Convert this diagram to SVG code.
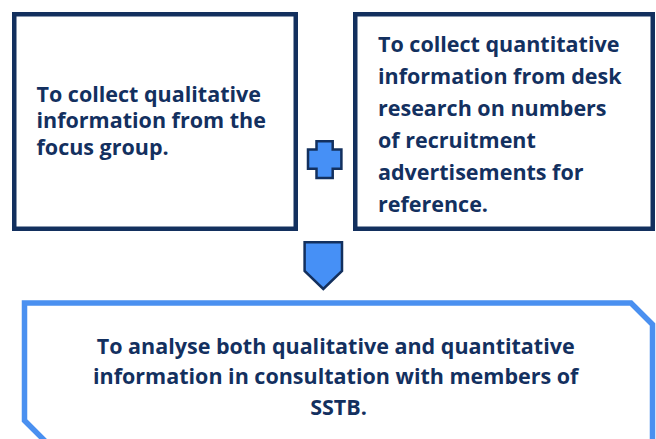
<svg xmlns="http://www.w3.org/2000/svg" width="656" height="439" viewBox="0 0 656 439">
  <style>
    .box { fill: #ffffff; stroke: #13305e; stroke-width: 4.5; }
    .result { fill: #ffffff; stroke: #4a90f0; stroke-width: 5.5; stroke-linejoin: miter; }
    .sym { fill: #4690f6; stroke: #13305e; stroke-width: 2.5; stroke-linejoin: miter; }
    .label { font-family: "Open Sans", Lato, "Liberation Sans", sans-serif; font-weight: bold; font-size: 21.5px; fill: #13305f; }
  </style>

  <g id="qualitative">
    <rect class="box" x="14.25" y="14.25" width="281.5" height="214.5"/>
    <text class="label">
      <tspan x="36.5" y="101.5">To collect qualitative</tspan>
      <tspan x="36.5" y="128">information from the</tspan>
      <tspan x="36.5" y="154.5">focus group.</tspan>
    </text>
  </g>

  <g id="quantitative">
    <rect class="box" x="355.25" y="14.25" width="297.5" height="214.5"/>
    <text class="label">
      <tspan x="378" y="51.5">To collect quantitative</tspan>
      <tspan x="378" y="83.5">information from desk</tspan>
      <tspan x="378" y="115.5">research on numbers</tspan>
      <tspan x="378" y="147.5">of recruitment</tspan>
      <tspan x="378" y="179.5">advertisements for</tspan>
      <tspan x="378" y="211.5">reference.</tspan>
    </text>
  </g>

  <g id="analysis">
    <path class="result" d="M24.5,303 H631 L652.5,324.5 V442 H46 L24.5,420.5 Z"/>
    <text class="label" text-anchor="middle">
      <tspan x="338.5" y="353.5">To analyse both qualitative and quantitative</tspan>
      <tspan x="338.5" y="384">information in consultation with members of</tspan>
      <tspan x="338.5" y="415">SSTB.</tspan>
    </text>
  </g>

  <g id="connectors">
    <!-- plus sign joining the two collection steps -->
    <polygon class="sym" points="316.5,141.3 332.7,141.3 332.7,149.6 341.4,149.6 341.4,168.7 332.7,168.7 332.7,178 316.5,178 316.5,168.7 308,168.7 308,149.6 316.5,149.6"/>
    <!-- pentagon arrow leading down to the analysis step -->
    <polygon class="sym" points="304.6,242.3 342,242.3 342,271 323.3,289 304.6,271"/>
  </g>
</svg>
